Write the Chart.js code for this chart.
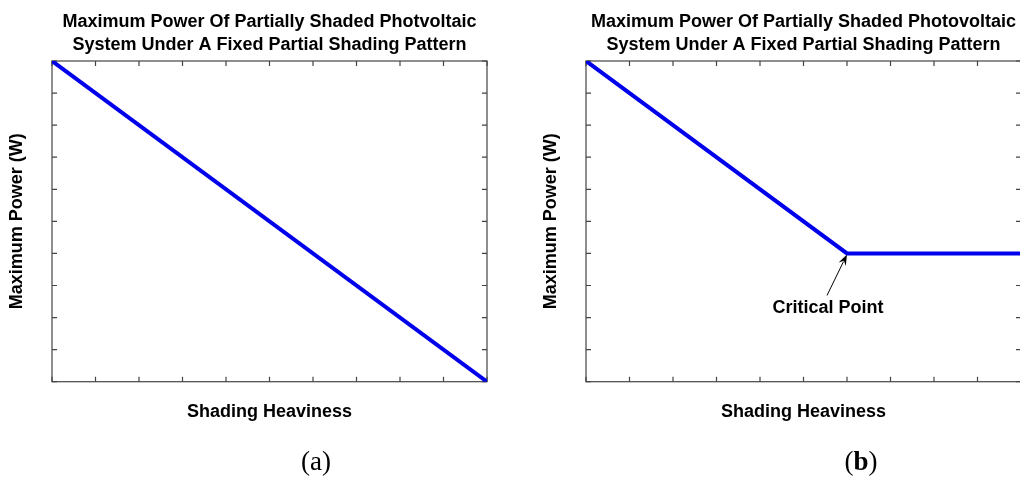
<!DOCTYPE html>
<html>
<head>
<meta charset="utf-8">
<script src="https://cdn.jsdelivr.net/npm/chart.js@4/dist/chart.umd.min.js"></script>
<style>
  html, body { margin: 0; padding: 0; background: #fff; overflow: hidden; }
  body { width: 1020px; height: 478px; position: relative; }
  canvas { position: absolute; top: 0; }
  #chartA { left: 0; }
  #chartB { left: 534px; }
  .caption {
    position: absolute; top: 444px; width: 80px; text-align: center;
    font-family: "Liberation Serif", "Times New Roman", serif; font-size: 27px; line-height: 34px; color: #000;
  }
</style>
</head>
<body>
<canvas id="chartA" width="510" height="478"></canvas>
<canvas id="chartB" width="510" height="478"></canvas>
<div class="caption" style="left:276px">(a)</div>
<div class="caption" style="left:821px">(<b>b</b>)</div>
<script>
// panel (a): power falls linearly with shading
const shadingA = [0, 10];
const powerA = [10, 0];
// panel (b): power falls until the critical point, then stays flat
const shadingB = [0, 6, 10];
const powerB = [10, 4, 4];
const criticalIndex = 1;
// unlabeled tick positions on both axes
const tickSteps = [0, 1, 2, 3, 4, 5, 6, 7, 8, 9, 10];

const titleA = ['Maximum Power Of Partially Shaded Photvoltaic', 'System Under A Fixed Partial Shading Pattern'];
const titleB = ['Maximum Power Of Partially Shaded Photovoltaic', 'System Under A Fixed Partial Shading Pattern'];
const xLabel = 'Shading Heaviness';
const yLabel = 'Maximum Power (W)';
const criticalLabel = 'Critical Point';

const fontFamily = '"Liberation Sans", Arial, Helvetica, sans-serif';
const lineBlue = 'rgb(0, 0, 235)';
const frameColor = '#444';
const tickLen = 5;

// box + inward ticks on all four sides, like a matlab axes
const frameTicks = {
  id: 'frameTicks',
  beforeDatasetsDraw(chart) {
    const { ctx, chartArea: a, scales: { x, y } } = chart;
    ctx.save();
    ctx.strokeStyle = frameColor;
    ctx.lineWidth = 1.2;
    ctx.strokeRect(a.left, a.top, a.right - a.left, a.bottom - a.top);
    ctx.beginPath();
    tickSteps.forEach(v => {
      const px = x.getPixelForValue(v);
      const py = y.getPixelForValue(v);
      ctx.moveTo(px, a.bottom); ctx.lineTo(px, a.bottom - tickLen);
      ctx.moveTo(px, a.top); ctx.lineTo(px, a.top + tickLen);
      ctx.moveTo(a.left, py); ctx.lineTo(a.left + tickLen, py);
      ctx.moveTo(a.right, py); ctx.lineTo(a.right - tickLen, py);
    });
    ctx.stroke();
    ctx.restore();
  }
};

const criticalNote = {
  id: 'criticalNote',
  afterDatasetsDraw(chart) {
    const { ctx, scales: { x, y } } = chart;
    const hx = x.getPixelForValue(shadingB[criticalIndex]);
    const hy = y.getPixelForValue(powerB[criticalIndex]) + 1;
    const tx = hx - 20, ty = hy + 41;
    const ang = Math.atan2(hy - ty, hx - tx);
    ctx.save();
    ctx.strokeStyle = '#000';
    ctx.fillStyle = '#000';
    ctx.lineWidth = 1;
    ctx.beginPath();
    ctx.moveTo(tx, ty);
    ctx.lineTo(hx - 8 * Math.cos(ang), hy - 8 * Math.sin(ang));
    ctx.stroke();
    ctx.beginPath();
    ctx.moveTo(hx, hy);
    ctx.lineTo(hx - 11 * Math.cos(ang) + 4 * Math.sin(ang), hy - 11 * Math.sin(ang) - 4 * Math.cos(ang));
    ctx.lineTo(hx - 7 * Math.cos(ang), hy - 7 * Math.sin(ang));
    ctx.lineTo(hx - 11 * Math.cos(ang) - 4 * Math.sin(ang), hy - 11 * Math.sin(ang) + 4 * Math.cos(ang));
    ctx.closePath();
    ctx.fill();
    ctx.font = 'bold 18px ' + fontFamily;
    ctx.textAlign = 'center';
    ctx.textBaseline = 'middle';
    ctx.fillText(criticalLabel, hx - 19, hy + 54);
    ctx.restore();
  }
};

function makeChart(id, title, xs, ys, extraPlugins) {
  const axisTitle = (text, padding) => ({
    display: true, text: text, color: '#000', padding: padding,
    font: { family: fontFamily, size: 18, weight: 'bold', lineHeight: 1.25 }
  });
  // drawTicks off so no tick length is reserved beside the axes
  const hiddenGrid = { display: false, drawTicks: false };
  return new Chart(document.getElementById(id), {
    type: 'line',
    data: {
      datasets: [{
        data: xs.map((v, i) => ({ x: v, y: ys[i] })),
        borderColor: lineBlue,
        borderWidth: 4,
        pointRadius: 0,
        tension: 0,
        fill: false
      }]
    },
    options: {
      responsive: false,
      animation: false,
      devicePixelRatio: 1,
      layout: { padding: { left: 0, right: 23, top: 0, bottom: 50.8 } },
      plugins: {
        legend: { display: false },
        tooltip: { enabled: false },
        title: {
          display: true,
          text: title,
          fullSize: false,
          color: '#000',
          padding: { top: 11, bottom: 5 },
          font: { family: fontFamily, size: 18, weight: 'bold', lineHeight: 1.25 }
        }
      },
      scales: {
        x: {
          type: 'linear', min: 0, max: 10,
          ticks: { display: false },
          grid: hiddenGrid,
          border: { display: false },
          title: axisTitle(xLabel, { top: 19, bottom: 4 })
        },
        y: {
          type: 'linear', min: 0, max: 10,
          ticks: { display: false },
          grid: hiddenGrid,
          border: { display: false },
          title: axisTitle(yLabel, { top: 5.75, bottom: 23.75 })
        }
      }
    },
    plugins: [frameTicks].concat(extraPlugins)
  });
}

makeChart('chartA', titleA, shadingA, powerA, []);
makeChart('chartB', titleB, shadingB, powerB, [criticalNote]);
</script>
</body>
</html>
